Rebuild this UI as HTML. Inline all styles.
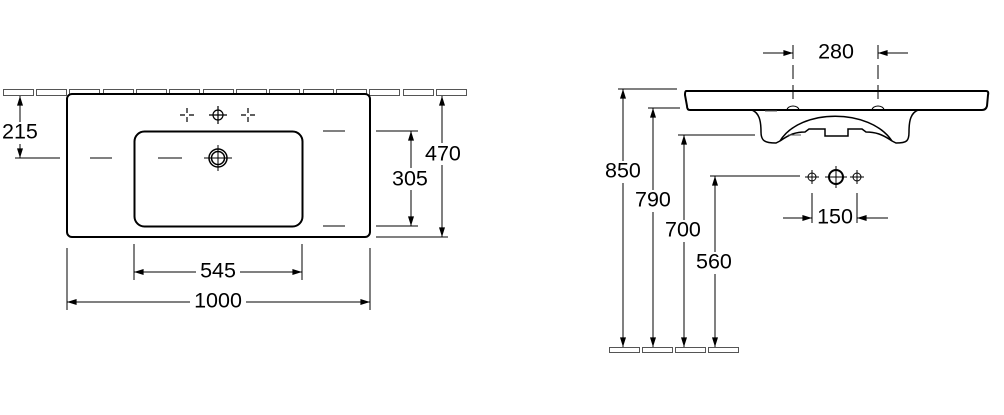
<!DOCTYPE html>
<html><head><style>
html,body{margin:0;padding:0;background:#fff;}
svg{display:block;}
text{font-family:"Liberation Sans",sans-serif;font-size:21.5px;fill:#000;}
</style></head><body>
<svg width="1004" height="415" viewBox="0 0 1004 415" xmlns="http://www.w3.org/2000/svg">
<defs>
<marker id="b" viewBox="0 0 16 10" refX="16" refY="5" markerWidth="16" markerHeight="6" orient="auto-start-reverse" markerUnits="userSpaceOnUse"><path d="M0,0 L16,5 L0,10 z" fill="#000"/></marker>
</defs>
<g stroke="#000" fill="none" stroke-width="1">
<g stroke="#555" stroke-width="1">
<rect x="3.5" y="89.5" width="30" height="6"/><rect x="36.5" y="89.5" width="30" height="6"/>
<rect x="69.5" y="89.5" width="30" height="6"/><rect x="103.5" y="89.5" width="30" height="6"/>
<rect x="136.5" y="89.5" width="30" height="6"/><rect x="169.5" y="89.5" width="30" height="6"/>
<rect x="203.5" y="89.5" width="30" height="6"/><rect x="236.5" y="89.5" width="30" height="6"/>
<rect x="269.5" y="89.5" width="30" height="6"/><rect x="303.5" y="89.5" width="30" height="6"/>
<rect x="336.5" y="89.5" width="30" height="6"/><rect x="369.5" y="89.5" width="30" height="6"/>
<rect x="403.5" y="89.5" width="30" height="6"/><rect x="436.5" y="89.5" width="30" height="6"/>
</g>
<rect x="67" y="94" width="303" height="143" rx="5" fill="#fff" stroke-width="2"/>
<rect x="134.5" y="131.5" width="168" height="95" rx="10" stroke-width="2"/>
<g stroke-width="1.2">
<circle cx="218" cy="115" r="5"/><path d="M218,106v18M209,115h18"/>
<path d="M187,108v5M187,117v5M180,115h5M189,115h5"/>
<path d="M248,108v5M248,117v5M241,115h5M250,115h5"/>
</g>
<circle cx="218" cy="158" r="9" stroke-width="1.5"/><circle cx="218" cy="158" r="6.5" stroke-width="1.5"/>
<path d="M218,145v26M204,158h28"/>
<path d="M15,158h45M90,158h22M158,158h24M323,131h22M323,226h22M376,131h42M376,226h42M376,237h72"/>
<line x1="20" y1="96" x2="20" y2="158" marker-start="url(#b)" marker-end="url(#b)"/>
<line x1="411" y1="131" x2="411" y2="226" marker-start="url(#b)" marker-end="url(#b)"/>
<line x1="442" y1="96" x2="442" y2="237" marker-start="url(#b)" marker-end="url(#b)"/>
<path d="M134,244v36M302,244v36"/>
<line x1="134" y1="272" x2="302" y2="272" marker-start="url(#b)" marker-end="url(#b)"/>
<path d="M67,248v62M370,248v62"/>
<line x1="67" y1="302" x2="370" y2="302" marker-start="url(#b)" marker-end="url(#b)"/>

<path d="M686,91 L986,91 Q989,91 988,95 L987,106 Q986,110 982,110 L690,110 Q687,110 687,106 L685,95 Q685,91 686,91 Z" stroke-width="2" fill="#fff"/>
<path d="M752,110 C759,113 761,120 761,132 C761,141 765,143 776,143 L780,141 M780,141 C800,108 870,108 892,141 M892,141 L896,143 C907,143 909,141 909,132 C909,120 911,113 918,110" stroke-width="1.5"/>
<path d="M780,141 C790,134 796,132 805,132 L809,129 L825,129 L825,136 L848,136 L848,129 L862,129 L866,132 C875,132 882,134 892,141" stroke-width="1.5"/>
<path d="M765,111h12M788,135h13M710,135h10" stroke="#555"/>
<path d="M793,45v60M878,45v60" stroke-dasharray="14,6"/>
<path d="M787,110 a6,4 0 0 1 12,0 M872,110 a6,4 0 0 1 12,0"/>
<line x1="763" y1="53" x2="793" y2="53" marker-end="url(#b)"/>
<line x1="908" y1="53" x2="878" y2="53" marker-end="url(#b)"/>
<path d="M618,89h59M648,108h32M678,135h77M710,176h90"/>
<line x1="623" y1="347" x2="623" y2="89" marker-start="url(#b)" marker-end="url(#b)"/>
<line x1="653" y1="347" x2="653" y2="108" marker-start="url(#b)" marker-end="url(#b)"/>
<line x1="684" y1="347" x2="684" y2="135" marker-start="url(#b)" marker-end="url(#b)"/>
<line x1="715" y1="347" x2="715" y2="176" marker-start="url(#b)" marker-end="url(#b)"/>
<g stroke="#555"><rect x="609.5" y="347.5" width="30" height="5"/><rect x="642.5" y="347.5" width="30" height="5"/><rect x="675.5" y="347.5" width="30" height="5"/><rect x="708.5" y="347.5" width="30" height="5"/></g>
<circle cx="812" cy="177" r="4"/><path d="M812,170v14M805,177h14"/>
<circle cx="857" cy="177" r="4"/><path d="M857,170v14M850,177h14"/>
<circle cx="836" cy="177" r="7" stroke-width="2"/><path d="M836,166v22M825,177h22"/>
<path d="M812,193v30M857,193v30"/>
<line x1="783" y1="218" x2="812" y2="218" marker-end="url(#b)"/>
<line x1="888" y1="218" x2="857" y2="218" marker-end="url(#b)"/>
</g>
<g fill="#fff">
<rect x="2" y="122" width="38" height="22"/>
<rect x="391" y="168" width="40" height="22"/>
<rect x="423" y="143" width="40" height="22"/>
<rect x="196" y="261" width="44" height="22"/>
<rect x="190" y="291" width="56" height="22"/>
<rect x="604" y="161" width="40" height="22"/>
<rect x="634" y="190" width="40" height="22"/>
<rect x="664" y="220" width="40" height="22"/>
<rect x="695" y="252" width="40" height="22"/>
</g>
<text x="2" y="133" dominant-baseline="middle">215</text>
<text x="392" y="180" dominant-baseline="middle">305</text>
<text x="425" y="155" dominant-baseline="middle">470</text>
<text x="218" y="272" text-anchor="middle" dominant-baseline="middle">545</text>
<text x="218" y="302" text-anchor="middle" dominant-baseline="middle">1000</text>
<text x="836" y="53" text-anchor="middle" dominant-baseline="middle">280</text>
<text x="605" y="172" dominant-baseline="middle">850</text>
<text x="635" y="201" dominant-baseline="middle">790</text>
<text x="665" y="231" dominant-baseline="middle">700</text>
<text x="696" y="263" dominant-baseline="middle">560</text>
<text x="835" y="218" text-anchor="middle" dominant-baseline="middle">150</text>
</svg>
</body></html>
